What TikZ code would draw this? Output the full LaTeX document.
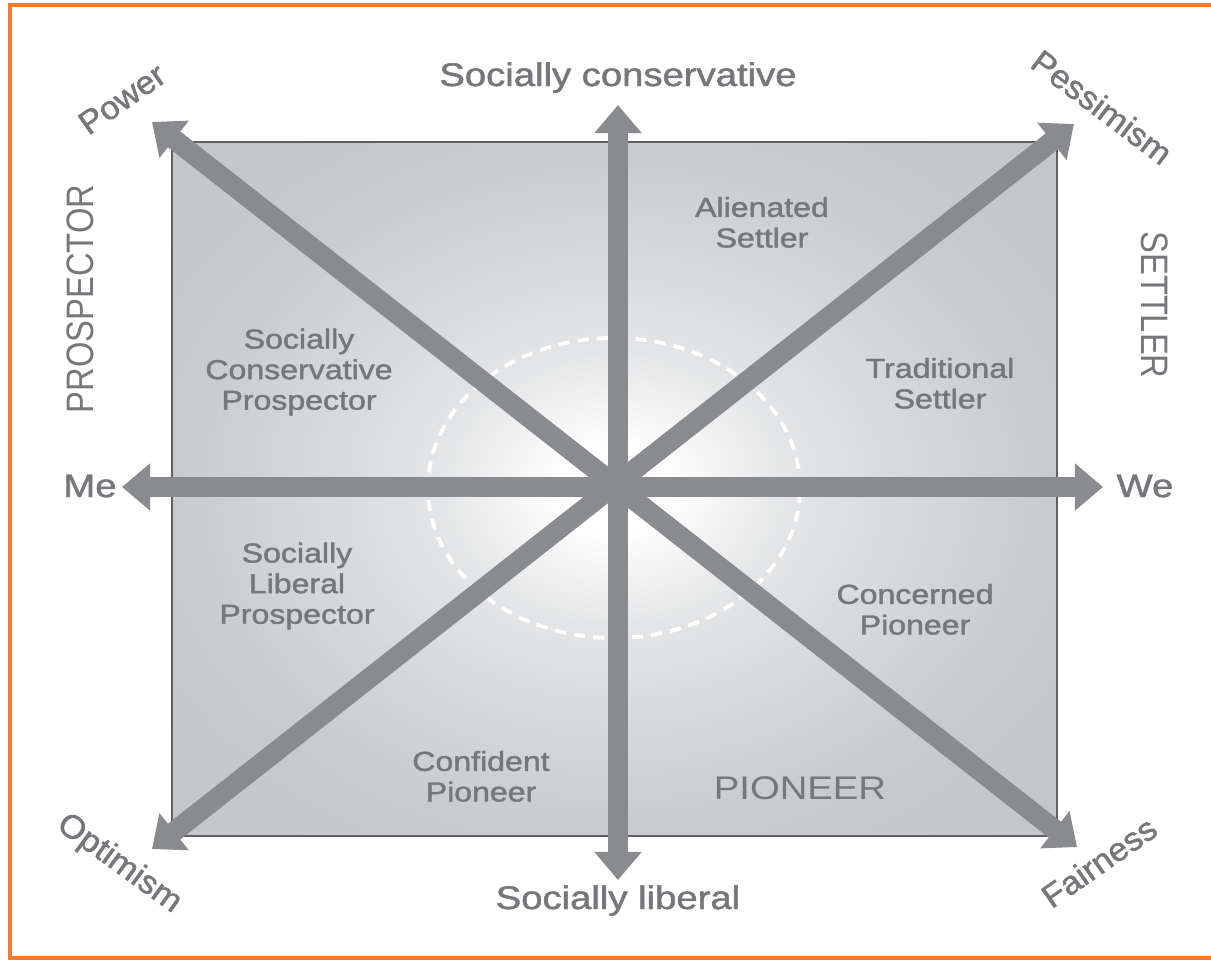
\documentclass[tikz,border=0pt]{standalone}
\usepackage{fontspec}
\setmainfont{Liberation Sans}
\newfontfamily\medfont[FakeBold=1.4]{Liberation Sans}
\usepackage{graphicx}
\usetikzlibrary{arrows.meta}

\definecolor{framecol}{RGB}{244,123,48}
\definecolor{spokecol}{RGB}{138,139,142}
\definecolor{edgecol}{RGB}{95,96,99}
\definecolor{txtcol}{RGB}{118,119,122}
\definecolor{fieldmid}{RGB}{228,229,230}
\definecolor{fieldout}{RGB}{201,202,204}
\definecolor{fieldcorner}{RGB}{196,197,199}

\pgfdeclareradialshading{fieldglow}{\pgfpointorigin}{color(0bp)=(white); color(3bp)=(white); color(10bp)=(fieldmid); color(25bp)=(fieldout); color(36bp)=(fieldcorner); color(50bp)=(fieldcorner)}

\newcommand{\wide}[1]{\scalebox{1.17}[1]{#1}}
\newcommand{\slant}[1]{\scalebox{1.05}[1]{#1}}
\newcommand{\tall}[1]{\scalebox{1}[1.17]{#1}}
\newcommand{\wlines}[1]{\scalebox{1.17}[1]{\begin{tabular}{@{}c@{}}#1\end{tabular}}}

\begin{document}
\begin{tikzpicture}[
    x=0.01cm, y=-0.01cm,
    spoke/.style={draw=spokecol, line width=5.7pt, {Triangle[length=8pt,width=13pt]}-{Triangle[length=8pt,width=13pt]}},
    pole/.style={text=txtcol, font=\medfont\fontsize{9.3}{11}\selectfont, inner sep=0pt},
    zone/.style={text=txtcol, font=\medfont\fontsize{7.8}{8.7}\selectfont, inner sep=0pt},
    tribe/.style={text=txtcol, font=\fontsize{9.3}{11}\selectfont, inner sep=0pt}
]

% --- frame ---
\useasboundingbox (0,0) rectangle (1211,960);
\draw[framecol, line width=0.9pt] (10,5) rectangle (1230,958);

% --- shaded field with dashed core ---
\shade[shading=fieldglow] (172,142) rectangle (1057,836);
\draw[edgecol, line width=0.5pt] (172,142) rectangle (1057,836);
\draw[white, line width=1.1pt, dash pattern=on 3.2pt off 2.3pt] (614,488) ellipse [x radius=1.86cm, y radius=1.50cm];

% --- arrow ends ---
\coordinate (pow) at (152,122);
\coordinate (fair) at (1077,847);
\coordinate (pess) at (1074,124);
\coordinate (opt) at (152,849);
\coordinate (cons) at (618,105);
\coordinate (lib) at (618,880);
\coordinate (me) at (122,487);
\coordinate (we) at (1103,487);

% --- the four axes ---
\draw[spoke] (pow) -- (fair);
\draw[spoke] (pess) -- (opt);
\draw[spoke] (cons) -- (lib);
\draw[spoke] (me) -- (we);

% --- axis labels ---
\node[pole, anchor=base] (conslbl) at (618,86) {\wide{Socially conservative}};
\node[pole, anchor=base] (liblbl) at (618,909) {\wide{Socially liberal}};
\node[pole, anchor=base] (melbl) at (90,497) {\wide{Me}};
\node[pole, anchor=base] (welbl) at (1145,497) {\wide{We}};
\node[pole, rotate=35] (powlbl) at (122,99) {\slant{Power}};
\node[pole, rotate=-37] (pesslbl) at (1102,107) {\slant{Pessimism}};
\node[pole, rotate=-36] (optlbl) at (119,864) {\slant{Optimism}};
\node[pole, rotate=35] (fairlbl) at (1099,862) {\slant{Fairness}};

% --- groups ---
\node[tribe, rotate=90] (prosp) at (80,299) {\tall{PROSPECTOR}};
\node[tribe, rotate=-90] (settl) at (1155,305) {\tall{SETTLER}};
\node[tribe, anchor=base] (pion) at (800,799) {\wide{PIONEER}};

% --- segments ---
\node[zone] (alien) at (762,226) {\wlines{Alienated\\Settler}};
\node[zone] (tradset) at (940,387) {\wlines{Traditional\\Settler}};
\node[zone] (consprosp) at (299,373) {\wlines{Socially\\Conservative\\Prospector}};
\node[zone] (libprosp) at (297,587) {\wlines{Socially\\Liberal\\Prospector}};
\node[zone] (concpion) at (915,613) {\wlines{Concerned\\Pioneer}};
\node[zone] (confpion) at (481,780) {\wlines{Confident\\Pioneer}};

\end{tikzpicture}
\end{document}
